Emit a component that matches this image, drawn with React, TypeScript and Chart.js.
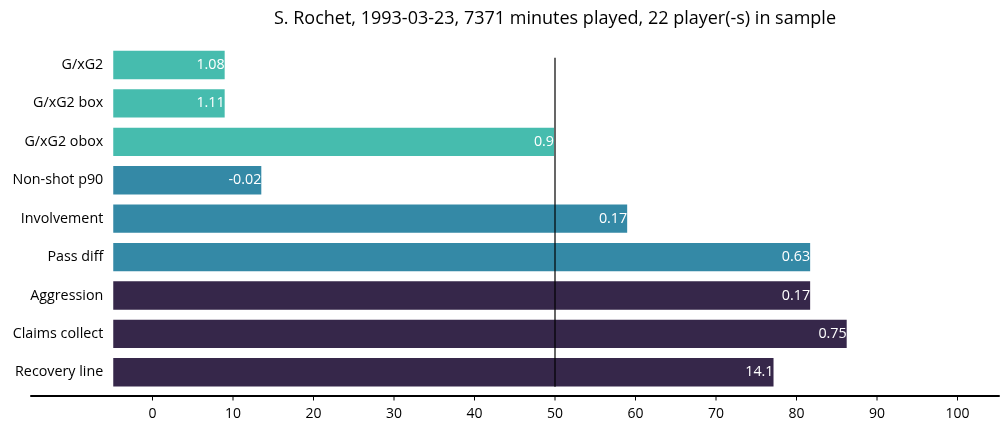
import { useEffect, useRef } from 'react';
import { Chart, registerables } from 'chart.js';

Chart.register(...registerables);

const metrics = [
  'G/xG2',
  'G/xG2 box',
  'G/xG2 obox',
  'Non-shot p90',
  'Involvement',
  'Pass diff',
  'Aggression',
  'Claims collect',
  'Recovery line',
];
// percentile rank in the 22-player sample
const percentiles = [9.09, 9.09, 50, 13.64, 59.09, 81.82, 81.82, 86.36, 77.27];
// raw metric values printed at the end of each bar
const rawValues = ['1.08', '1.11', '0.9', '-0.02', '0.17', '0.63', '0.17', '0.75', '14.1'];
const groups = [0, 0, 0, 1, 1, 1, 2, 2, 2];
const xTicks = [0, 10, 20, 30, 40, 50, 60, 70, 80, 90, 100];
const BAR_BASE = -5;
const MEDIAN = 50;

const groupColors = ['#46bcae', '#3489a6', '#36274a'];
const FONT = '"Open Sans", "Noto Sans", sans-serif';
const TITLE = 'S. Rochet, 1993-03-23, 7371 minutes played, 22 player(-s) in sample';

const overlay = {
  id: 'overlay',
  afterDatasetsDraw(chart: any) {
    const { ctx, chartArea, scales } = chart;
    const x = scales.x;
    ctx.save();

    // median line
    const mx = x.getPixelForValue(MEDIAN);
    ctx.strokeStyle = '#000';
    ctx.lineWidth = 1.2;
    ctx.beginPath();
    ctx.moveTo(mx, chartArea.top + 12);
    ctx.lineTo(mx, chartArea.bottom - 4.8);
    ctx.stroke();

    // value labels inside bar ends
    const meta = chart.getDatasetMeta(0);
    ctx.font = `14.3px ${FONT}`;
    ctx.fillStyle = '#fff';
    ctx.textAlign = 'right';
    ctx.textBaseline = 'middle';
    meta.data.forEach((bar: any, i: number) => {
      ctx.fillText(rawValues[i], bar.x - 1, bar.y);
    });

    // bottom spine + tick marks
    const sy = chartArea.bottom + 4.5;
    ctx.lineWidth = 2;
    ctx.beginPath();
    ctx.moveTo(chartArea.left - 82, sy);
    ctx.lineTo(chartArea.right + 2, sy);
    ctx.stroke();
    ctx.lineWidth = 1;
    x.ticks.forEach((t: any) => {
      const px = x.getPixelForValue(t.value);
      ctx.beginPath();
      ctx.moveTo(px, sy);
      ctx.lineTo(px, sy + 4.5);
      ctx.stroke();
    });
    ctx.restore();
  },
};

export default function App() {
  const canvasRef = useRef<HTMLCanvasElement>(null);

  useEffect(() => {
    if (!canvasRef.current) return;
    Chart.defaults.font.family = FONT;

    const chart = new Chart(canvasRef.current, {
      type: 'bar',
      data: {
        labels: metrics,
        datasets: [
          {
            data: percentiles.map((p) => [BAR_BASE, p]),
            backgroundColor: groups.map((g) => groupColors[g]),
            borderColor: 'rgba(255, 255, 255, 0.25)',
            borderWidth: 1,
            borderSkipped: false,
            barPercentage: 0.79,
            categoryPercentage: 1,
          },
        ],
      },
      options: {
        indexAxis: 'y',
        animation: false,
        responsive: true,
        maintainAspectRatio: false,
        layout: { padding: { left: 0, right: 10.25, top: 0, bottom: 0 } },
        plugins: {
          legend: { display: false },
          tooltip: { enabled: false },
          title: {
            display: true,
            text: TITLE,
            fullSize: false,
            color: '#000',
            font: { size: 18, weight: 'normal', family: FONT, lineHeight: 1.2 },
            padding: { top: 8, bottom: 16.2 },
          },
        },
        scales: {
          x: {
            type: 'linear',
            min: BAR_BASE,
            max: 105,
            afterBuildTicks: (scale: any) => {
              scale.ticks = xTicks.map((v) => ({ value: v }));
            },
            afterFit: (scale: any) => {
              scale.height = 38.5;
            },
            grid: { display: false, drawTicks: false },
            border: { display: false },
            ticks: { color: '#000', font: { size: 14 }, padding: 14, maxRotation: 0, autoSkip: false },
          },
          y: {
            afterFit: (scale: any) => {
              scale.width = 112.25;
            },
            grid: { display: false, drawTicks: false },
            border: { display: false },
            ticks: { color: '#000', font: { size: 14.3 }, padding: 9 },
          },
        },
      },
      plugins: [overlay],
    });

    return () => chart.destroy();
  }, []);

  return (
    <div style={{ position: 'absolute', left: 0, top: 0, width: 1008, height: 430, background: '#fff' }}>
      <canvas ref={canvasRef} />
    </div>
  );
}
